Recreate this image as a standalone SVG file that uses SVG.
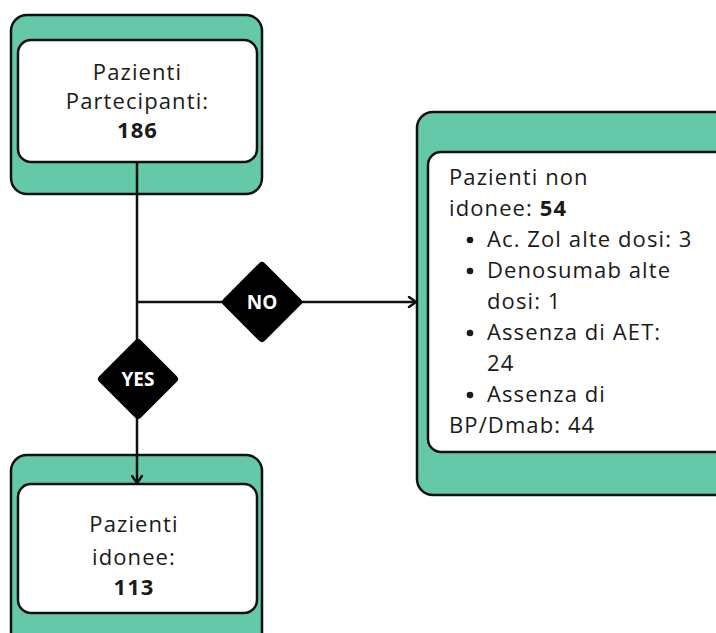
<svg xmlns="http://www.w3.org/2000/svg" width="716" height="633" viewBox="0 0 716 633">
<defs>
<style>
.outer{fill:#65c8a9;stroke:#111;stroke-width:2.5}
.inner{fill:#fff;stroke:#111;stroke-width:2.5}
.t{font-family:"Open Sans","Liberation Sans",sans-serif;font-size:22px;letter-spacing:1.1px;fill:#1a1a1a}
.b{font-weight:700}
.c{text-anchor:middle}
.dia{fill:#000;stroke:#000;stroke-width:8;stroke-linejoin:round}
.dt{font-family:"Open Sans","Liberation Sans",sans-serif;font-weight:700;font-size:19px;fill:#fff;text-anchor:middle}
.ln{fill:none;stroke:#111;stroke-width:2.5}
</style>
<marker id="arr" viewBox="0 0 12 12" refX="10" refY="6" markerWidth="12" markerHeight="12" markerUnits="userSpaceOnUse" orient="auto">
<path d="M3,1 L10,6 L3,11" fill="none" stroke="#111" stroke-width="2.5" stroke-linecap="round" stroke-linejoin="round"/>
</marker>
</defs>
<rect width="716" height="633" fill="#fff"/>
<g id="node-partecipanti">
<rect class="outer" x="11" y="15" width="251" height="179" rx="16"/>
<rect class="inner" x="18" y="40" width="239" height="122" rx="13"/>
<text class="t c" x="137.5" y="80">Pazienti</text>
<text class="t c" x="137.5" y="109">Partecipanti:</text>
<text class="t c b" x="137.5" y="138">186</text>
</g>
<g id="node-non-idonee">
<rect class="outer" x="417" y="112" width="320" height="383" rx="16"/>
<rect class="inner" x="428" y="152" width="300" height="300" rx="13"/>
<text class="t" x="449" y="185">Pazienti non</text>
<text class="t" x="449" y="216">idonee: <tspan class="b">54</tspan></text>
<g fill="#1a1a1a">
<circle cx="470" cy="240" r="3.3"/>
<circle cx="470" cy="271" r="3.3"/>
<circle cx="470" cy="333" r="3.3"/>
<circle cx="470" cy="395" r="3.3"/>
</g>
<text class="t" x="487" y="247">Ac. Zol alte dosi: 3</text>
<text class="t" x="487" y="278">Denosumab alte</text>
<text class="t" x="487" y="309">dosi: 1</text>
<text class="t" x="487" y="340">Assenza di AET:</text>
<text class="t" x="487" y="371">24</text>
<text class="t" x="487" y="402">Assenza di</text>
<text class="t" x="449" y="433">BP/Dmab: 44</text>
</g>
<g id="node-idonee">
<rect class="outer" x="11" y="455" width="251" height="200" rx="16"/>
<rect class="inner" x="18" y="484" width="239" height="129" rx="13"/>
<text class="t c" x="134" y="532">Pazienti</text>
<text class="t c" x="134" y="565">idonee:</text>
<text class="t c b" x="134" y="595">113</text>
</g>
<g id="connectors">
<line class="ln" x1="137" y1="162" x2="137" y2="483" marker-end="url(#arr)"/>
<line class="ln" x1="137" y1="302" x2="416" y2="302" marker-end="url(#arr)"/>
</g>
<g id="decision-no">
<polygon class="dia" points="262,266 298,302 262,338 226,302"/>
<text class="dt" x="262" y="309">NO</text>
</g>
<g id="decision-yes">
<polygon class="dia" points="138,343 174,379 138,415 102,379"/>
<text class="dt" x="138" y="386">YES</text>
</g>
</svg>
